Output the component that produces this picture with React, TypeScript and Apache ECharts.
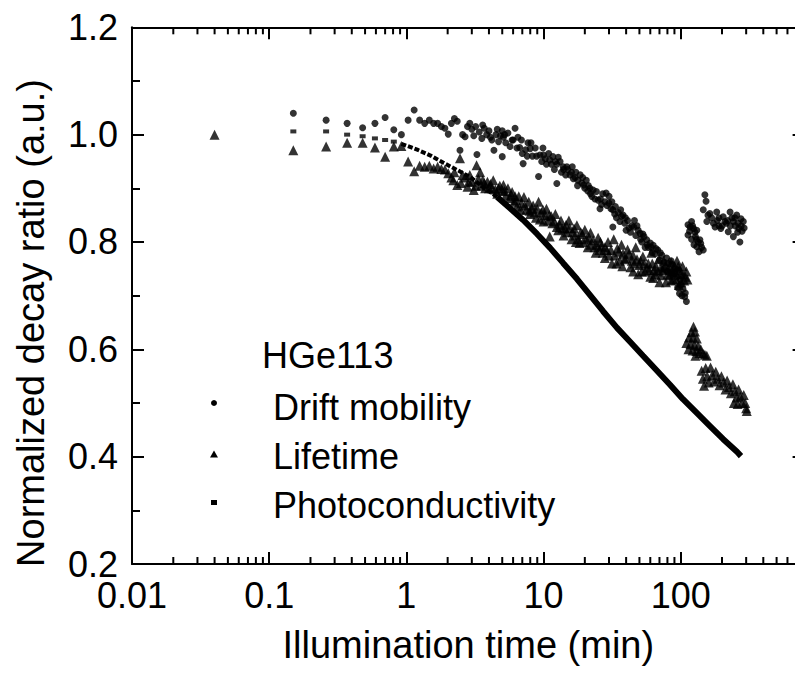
import React, { useEffect, useRef } from 'react';
import * as echarts from 'echarts';

const FONT = '"Liberation Sans", Arial, Helvetica, sans-serif';

const xTickValues = [0.01, 0.1, 1, 10, 100];
const xTickLabels = ['0.01', '0.1', '1', '10', '100'];
const xMinorTicks = [
  0.02, 0.03, 0.04, 0.05, 0.06, 0.07, 0.08, 0.09,
  0.2, 0.3, 0.4, 0.5, 0.6, 0.7, 0.8, 0.9,
  2, 3, 4, 5, 6, 7, 8, 9,
  20, 30, 40, 50, 60, 70, 80, 90,
  200, 300, 400, 500, 600, 700,
];

const xTitle = 'Illumination time (min)';
const yTitle = 'Normalized decay ratio (a.u.)';
const legendTitle = 'HGe113';
const seriesNames = ['Drift mobility', 'Lifetime', 'Photoconductivity'];

const driftMobility: [number, number][] = [
  [0.15, 1.04], [0.26, 1.027], [0.37, 1.021], [0.48, 1.013], [0.59, 1.021], [0.7, 1.032],
  [0.81, 1.009], [0.92, 1.0], [1.03, 1.027], [1.14, 1.046], [1.25, 1.027], [1.36, 1.021],
  [1.47, 1.027], [1.58, 1.021], [1.69, 1.021], [1.8, 1.015], [1.91, 1.012], [2.02, 1.001],
  [2.13, 1.021], [2.24, 1.03], [2.35, 1.025], [2.46, 0.971], [2.57, 1.0], [2.68, 0.996],
  [2.79, 1.015], [2.9, 1.021], [3.0, 1.01], [3.1, 0.998], [3.2, 1.015], [3.27, 0.963],
  [3.4, 1.005], [3.55, 0.993], [3.6, 1.018], [3.7, 1.012], [3.85, 1.0], [4.0, 1.007],
  [4.1, 0.995], [4.2, 0.99], [4.35, 0.971], [4.5, 1.0], [4.6, 1.01], [4.7, 0.987],
  [4.85, 0.998], [5.0, 1.007], [5.1, 0.995], [5.0, 0.959], [5.2, 1.0], [5.3, 0.985],
  [5.5, 1.003], [5.7, 0.978], [5.9, 0.99], [6.0, 0.99], [6.2, 1.012], [6.4, 0.975],
  [6.5, 0.995], [6.7, 0.976], [6.9, 0.99], [7.0, 0.965], [7.1, 0.946], [7.4, 0.972],
  [7.6, 0.96], [7.7, 0.985], [8.0, 0.974], [8.1, 0.985], [8.3, 0.96], [8.7, 0.975],
  [8.9, 0.96], [9.2, 0.922], [9.4, 0.962], [9.7, 0.95], [9.9, 0.975], [10, 0.962],
  [10.3, 0.955], [10.5, 0.945], [10.9, 0.965], [11.1, 0.953], [11.4, 0.945], [11.7, 0.959],
  [12, 0.935], [12.2, 0.95], [12.5, 0.945], [12.5, 0.909], [12.8, 0.958], [13.2, 0.95],
  [13.5, 0.93], [13.9, 0.94], [14, 0.935], [14.5, 0.925], [14.8, 0.94], [15, 0.935],
  [15.6, 0.925], [16, 0.93], [16.2, 0.94], [16.5, 0.918], [17, 0.92], [17.2, 0.93],
  [17.7, 0.905], [17.8, 0.915], [18.5, 0.925], [19, 0.91], [19.3, 0.92], [19.6, 0.906],
  [20, 0.9], [20.5, 0.915], [21, 0.895], [21.2, 0.905], [21.8, 0.9], [22, 0.89],
  [22.5, 0.885], [23, 0.897], [23.7, 0.88], [24.3, 0.894], [25, 0.878], [25.8, 0.862],
  [26, 0.88], [26.5, 0.87], [27, 0.89], [28, 0.875], [28.6, 0.891], [29, 0.868],
  [30, 0.872], [30, 0.885], [31, 0.862], [31.5, 0.875], [32, 0.86], [32, 0.828],
  [33, 0.852], [33.4, 0.866], [34, 0.845], [35, 0.855], [36, 0.838], [36.5, 0.86],
  [37, 0.848], [38, 0.85], [39, 0.835], [39.5, 0.845], [40, 0.822], [41, 0.84],
  [42, 0.826], [43, 0.818], [44, 0.83], [45.5, 0.828], [46, 0.84], [47, 0.812],
  [48, 0.83], [49, 0.822], [50.6, 0.816], [51, 0.805], [52, 0.8], [53, 0.815],
  [54, 0.81], [55, 0.79], [56.5, 0.804], [57, 0.795], [58, 0.79], [60, 0.798],
  [61, 0.79], [62, 0.78], [63, 0.794], [65, 0.778], [66, 0.788], [68, 0.785],
  [70, 0.766], [71, 0.78], [73, 0.775], [75, 0.75], [76, 0.762], [79, 0.77],
  [80, 0.745], [81.5, 0.76], [84, 0.748], [85, 0.765], [87, 0.758], [88, 0.738],
  [90, 0.742], [92, 0.75], [94, 0.735], [95, 0.715], [96, 0.748], [98, 0.704],
  [99, 0.73], [100, 0.72], [102, 0.7], [104, 0.712], [107, 0.698], [108, 0.705],
  [110, 0.689],
  [113, 0.832], [116, 0.82], [113, 0.813], [117, 0.828], [120, 0.838], [122, 0.83],
  [124, 0.825], [127, 0.818], [128, 0.81], [130, 0.805], [131, 0.822], [134, 0.8],
  [138, 0.804], [140, 0.797], [125, 0.795], [131, 0.791], [142, 0.79], [146, 0.785],
  [136, 0.782], [120, 0.805],
  [146, 0.86], [150, 0.888], [153, 0.876], [155, 0.838], [158, 0.85], [163, 0.853],
  [168, 0.845], [173, 0.835], [178, 0.828], [183, 0.856], [185, 0.84], [190, 0.845],
  [190, 0.83], [196, 0.825], [200, 0.83], [204, 0.847], [210, 0.838], [215, 0.835],
  [220, 0.84], [222, 0.819], [229, 0.856], [230, 0.83], [236, 0.845], [242, 0.838],
  [242, 0.81], [248, 0.845], [250, 0.83], [256, 0.85], [260, 0.818], [262, 0.835],
  [265, 0.825], [270, 0.8], [275, 0.843], [276, 0.83], [280, 0.82], [286, 0.838],
  [290, 0.826],
];

const lifetime: [number, number][] = [
  [0.04, 1.0], [0.15, 0.971], [0.26, 0.978], [0.37, 0.985], [0.48, 0.985], [0.59, 0.976],
  [0.7, 0.959], [0.81, 0.978], [0.92, 0.979], [1.03, 0.95], [1.14, 0.932],
  [1.25, 0.942], [1.36, 0.94], [1.47, 0.942], [1.58, 0.937], [1.69, 0.94], [1.8, 0.936],
  [1.91, 0.935], [2.02, 0.928], [2.13, 0.92], [2.2, 0.915], [2.24, 0.93], [2.35, 0.906],
  [2.46, 0.956], [2.5, 0.91], [2.57, 0.925], [2.68, 0.92], [2.79, 0.903], [2.85, 0.912],
  [2.9, 0.925], [3.0, 0.912], [3.1, 0.897], [3.2, 0.905], [3.25, 0.943], [3.35, 0.918],
  [3.45, 0.93], [3.5, 0.905], [3.6, 0.915], [3.7, 0.91], [3.75, 0.9], [3.9, 0.912],
  [4.0, 0.9], [4.1, 0.908], [4.2, 0.9], [4.3, 0.915], [4.45, 0.898], [4.6, 0.89],
  [4.7, 0.9], [4.8, 0.905], [5.0, 0.896], [5.1, 0.906], [5.2, 0.895], [5.3, 0.886],
  [5.5, 0.9], [5.7, 0.882], [5.8, 0.888], [5.9, 0.893], [6.1, 0.875], [6.2, 0.885],
  [6.3, 0.878], [6.4, 0.866], [6.6, 0.885], [6.8, 0.86], [6.9, 0.872], [7.2, 0.884],
  [7.3, 0.868], [7.5, 0.86], [7.8, 0.875], [7.9, 0.858], [8.0, 0.852], [8.2, 0.862],
  [8.4, 0.868], [8.6, 0.855], [8.8, 0.845], [9.0, 0.862], [9.2, 0.875], [9.4, 0.842],
  [9.6, 0.855], [9.9, 0.86], [10.0, 0.838], [10.2, 0.85], [10.5, 0.862], [10.8, 0.84],
  [11.0, 0.85], [11.1, 0.81], [11.4, 0.848], [11.6, 0.835], [12.0, 0.838], [12.2, 0.852],
  [12.5, 0.828], [12.8, 0.822], [13.1, 0.832], [13.4, 0.84], [13.7, 0.825], [14.0, 0.812],
  [14.3, 0.825], [14.6, 0.832], [14.8, 0.818], [15.3, 0.84], [15.5, 0.826], [16.0, 0.805],
  [16.3, 0.818], [16.7, 0.825], [17, 0.812], [17.2, 0.8], [17.5, 0.831], [18, 0.805],
  [18.3, 0.798], [18.7, 0.818], [19.2, 0.815], [19.5, 0.8], [20.0, 0.823], [20.5, 0.805],
  [21, 0.79], [21.5, 0.808], [22, 0.817], [22, 0.795], [23, 0.803], [23.5, 0.79],
  [24, 0.78], [24.5, 0.795], [25, 0.808], [25.5, 0.785], [26, 0.8], [26.5, 0.792],
  [27, 0.78], [28, 0.77], [28, 0.79], [29, 0.785], [29.5, 0.8], [30, 0.775],
  [31, 0.785], [31.5, 0.76], [32.5, 0.805], [33, 0.775], [34, 0.76], [34.5, 0.788],
  [35.5, 0.782], [36, 0.765], [37, 0.795], [37.5, 0.755], [38, 0.778], [39, 0.768],
  [40, 0.77], [41, 0.786], [42, 0.778], [43, 0.753], [44, 0.765], [45, 0.775],
  [45, 0.745], [46, 0.76], [47, 0.79], [48, 0.768], [49, 0.74], [50, 0.757],
  [51, 0.765], [52, 0.745], [53, 0.773], [54, 0.76], [55, 0.745], [57, 0.752],
  [58, 0.76], [59, 0.748], [60, 0.735], [61, 0.78], [62, 0.76], [63, 0.733],
  [64, 0.748], [65, 0.74], [66, 0.755], [68, 0.745], [69, 0.768], [70, 0.725],
  [72, 0.738], [72, 0.752], [74, 0.748], [75, 0.765], [77, 0.755], [78, 0.725],
  [80, 0.74], [81, 0.75], [83, 0.738], [85, 0.762], [85, 0.728], [87, 0.745],
  [88, 0.73], [90, 0.755], [91, 0.745], [93, 0.73], [94, 0.765], [96, 0.755],
  [97, 0.72], [98, 0.748], [100, 0.74], [101, 0.725], [103, 0.755], [104, 0.74],
  [106, 0.728], [108, 0.735], [110, 0.745], [112, 0.73],
  [124, 0.642], [120, 0.632], [127, 0.633], [115, 0.622], [123, 0.622], [131, 0.62],
  [110, 0.612], [118, 0.61], [126, 0.608], [134, 0.606], [140, 0.6], [114, 0.6],
  [122, 0.598], [130, 0.597], [137, 0.593], [145, 0.592], [150, 0.59], [155, 0.588],
  [128, 0.588],
  [142, 0.56], [145, 0.545], [148, 0.532], [152, 0.565], [156, 0.55], [160, 0.538],
  [165, 0.566], [170, 0.552], [175, 0.54], [180, 0.558], [186, 0.545], [192, 0.533],
  [198, 0.55], [205, 0.538], [212, 0.525], [218, 0.542], [225, 0.53], [232, 0.518],
  [240, 0.535], [244, 0.5], [248, 0.522], [256, 0.51], [260, 0.498], [264, 0.525],
  [272, 0.512], [280, 0.5], [288, 0.515], [295, 0.5], [300, 0.49], [303, 0.485],
];

const photoEarly: [number, number][] = [
  [0.15, 1.006], [0.26, 1.006], [0.37, 1.0], [0.48, 0.997], [0.59, 0.993], [0.7, 0.99],
  [0.81, 0.987],
];

const photoMid: [number, number][] = [
  [0.92, 0.983], [1.2, 0.972], [1.5, 0.961], [1.85, 0.948], [2.35, 0.934], [2.92, 0.921],
  [3.63, 0.902], [4.59, 0.884],
];

const photoLate: [number, number][] = [
  [4.59, 0.884], [5.7, 0.863], [7.1, 0.841], [8.97, 0.815], [11.16, 0.789],
  [13.88, 0.761], [17.55, 0.731], [21.84, 0.701], [27.16, 0.671], [34.35, 0.64],
  [42.72, 0.614], [53.12, 0.588], [67.19, 0.56], [83.56, 0.534], [103.9, 0.507],
  [131.5, 0.481], [163.5, 0.457], [203.3, 0.433], [257.2, 0.409], [275, 0.401],
];

const X_MIN = 0.01;
const X_MAX = 800;
const Y_MIN = 0.2;
const Y_MAX = 1.2;

const tickLine = { lineStyle: { color: '#000', width: 2 } };

function xLabel(v: number): string {
  for (let i = 0; i < xTickValues.length; i++) {
    if (Math.abs(Math.log10(v) - Math.log10(xTickValues[i])) < 1e-6) return xTickLabels[i];
  }
  return '';
}

export default function App() {
  const ref = useRef<HTMLDivElement>(null);
  useEffect(() => {
    if (!ref.current) return;
    const chart = echarts.init(ref.current, undefined, { renderer: 'svg' });
    const baseX = {
      type: 'log',
      logBase: 10,
      min: X_MIN,
      max: X_MAX,
      splitLine: { show: false },
      axisLine: { show: true, lineStyle: { color: '#000', width: 2 } },
      axisTick: { show: true, inside: true, length: 12, ...tickLine },
    };
    const baseY = {
      type: 'value',
      min: Y_MIN,
      max: Y_MAX,
      interval: 0.2,
      splitLine: { show: false },
      axisLine: { show: true, lineStyle: { color: '#000', width: 2 } },
      axisTick: { show: true, inside: true, length: 12, ...tickLine },
      minorTick: { show: true, splitNumber: 2, length: 8, ...tickLine },
    };
    const legendText = (text: string, x: number, y: number) => ({
      type: 'text',
      x,
      y,
      style: { text, fontSize: 36, fontFamily: FONT, fill: '#000', verticalAlign: 'middle' },
    });
    const option: any = {
      animation: false,
      backgroundColor: '#fff',
      textStyle: { fontFamily: FONT, color: '#000' },
      grid: { left: 132, top: 27.3, width: 672.6, height: 536.7, containLabel: false },
      xAxis: [
        {
          ...baseX,
          position: 'bottom',
          name: xTitle,
          nameLocation: 'middle',
          nameGap: 62,
          nameTextStyle: { fontSize: 38, color: '#000', fontFamily: FONT },
          axisLabel: {
            show: true,
            margin: 16,
            fontSize: 36,
            lineHeight: 30,
            color: '#000',
            fontFamily: FONT,
            formatter: (v: number) => xLabel(v),
          },
        },
        {
          ...baseX,
          position: 'top',
          axisLabel: { show: false },
        },
      ],
      yAxis: [
        {
          ...baseY,
          position: 'left',
          axisLabel: {
            show: true,
            margin: 14,
            fontSize: 36,
            lineHeight: 30,
            color: '#000',
            fontFamily: FONT,
            formatter: (v: number) => v.toFixed(1),
          },
        },
        {
          ...baseY,
          position: 'right',
          axisLabel: { show: false },
        },
      ],
      series: [
        {
          name: seriesNames[0],
          type: 'scatter',
          data: driftMobility,
          symbol: 'circle',
          symbolSize: 7,
          itemStyle: { color: '#000' },
          silent: true,
        },
        {
          name: seriesNames[1],
          type: 'scatter',
          data: lifetime,
          symbol: 'triangle',
          symbolSize: 10,
          itemStyle: { color: '#000' },
          silent: true,
        },
        {
          name: seriesNames[2],
          type: 'scatter',
          data: photoEarly,
          symbol: 'rect',
          symbolSize: [6, 4],
          itemStyle: { color: '#000' },
          silent: true,
        },
        {
          name: seriesNames[2],
          type: 'line',
          data: photoMid,
          showSymbol: false,
          symbol: 'none',
          lineStyle: { color: '#000', width: 4, type: [5, 2] },
          silent: true,
        },
        {
          name: seriesNames[2],
          type: 'line',
          data: photoLate,
          showSymbol: false,
          symbol: 'none',
          lineStyle: { color: '#000', width: 6 },
          silent: true,
        },
        {
          name: 'minor ticks',
          type: 'custom',
          silent: true,
          clip: false,
          data: xMinorTicks.map((v) => [v, Y_MIN]),
          renderItem: (_params: any, api: any) => {
            const x = api.value(0);
            const pb = api.coord([x, Y_MIN]);
            const pt = api.coord([x, Y_MAX]);
            return {
              type: 'group',
              children: [
                {
                  type: 'line',
                  shape: { x1: pb[0], y1: pb[1], x2: pb[0], y2: pb[1] - 7 },
                  style: { stroke: '#000', lineWidth: 2 },
                },
                {
                  type: 'line',
                  shape: { x1: pt[0], y1: pt[1], x2: pt[0], y2: pt[1] + 7 },
                  style: { stroke: '#000', lineWidth: 2 },
                },
              ],
            };
          },
        },
      ],
      graphic: [
        {
          type: 'text',
          x: 31,
          y: 323,
          rotation: Math.PI / 2,
          style: {
            text: yTitle,
            fontSize: 38,
            fontFamily: FONT,
            fill: '#000',
            align: 'center',
            verticalAlign: 'middle',
          },
        },
        legendText(legendTitle, 262, 355),
        { type: 'circle', shape: { cx: 214, cy: 403, r: 3 }, style: { fill: '#000' } },
        legendText(seriesNames[0], 273, 407),
        {
          type: 'polygon',
          shape: { points: [[210, 457.5], [218, 457.5], [214, 450.5]] },
          style: { fill: '#000' },
        },
        legendText(seriesNames[1], 273, 456),
        { type: 'rect', shape: { x: 211, y: 500, width: 6, height: 5 }, style: { fill: '#000' } },
        legendText(seriesNames[2], 273, 505),
      ],
    };
    chart.setOption(option);
    return () => {
      chart.dispose();
    };
  }, []);
  return (
    <div
      style={{
        position: 'absolute',
        left: 0,
        top: 0,
        width: 795,
        height: 679,
        overflow: 'hidden',
        background: '#fff',
      }}
    >
      <div ref={ref} style={{ width: 830, height: 679 }} />
    </div>
  );
}
